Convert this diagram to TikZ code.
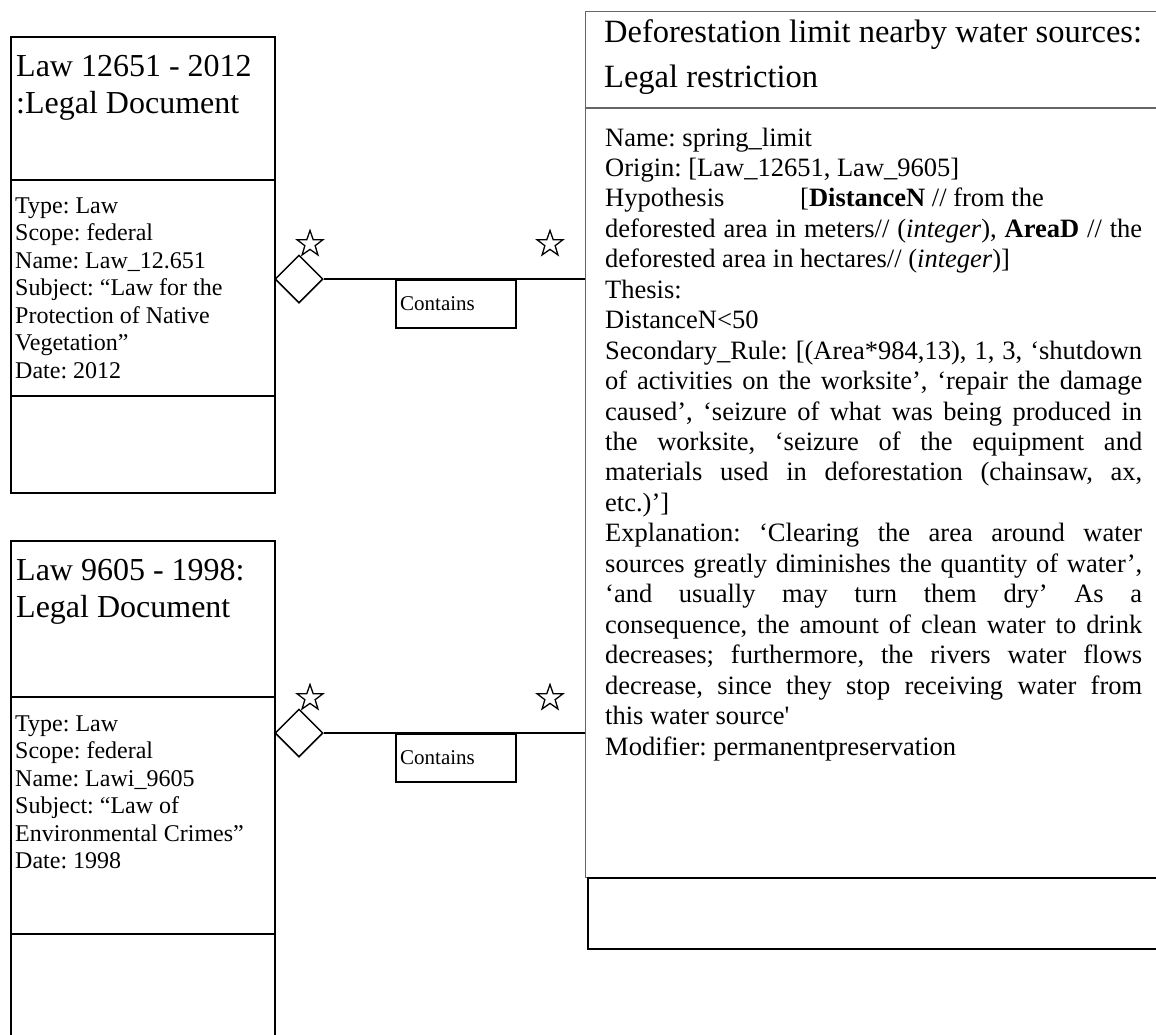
\documentclass[tikz,border=0pt]{standalone}
\usepackage{fontspec}
\setmainfont{Liberation Serif}[Ligatures=TeXOff]
\usetikzlibrary{shapes.geometric}
\newcommand\jline[1]{\makebox[\linewidth][s]{#1}}
\frenchspacing
\tikzset{
 docbox/.style={draw=black, line width=1.8pt, rectangle, inner sep=0pt, anchor=north west},
 rulebox/.style={draw=black!60, line width=1.2pt, rectangle, inner sep=0pt, anchor=north west},
 sectline/.style={draw=black, line width=1.8pt},
 rulesect/.style={draw=black!60, line width=1.2pt},
 agg/.style={draw=black, line width=1.5pt, diamond, inner sep=0pt, minimum width=48pt, minimum height=48pt},
 assoc/.style={draw=black, line width=1.5pt},
 relbox/.style={draw=black, line width=1.8pt, rectangle, inner sep=0pt, anchor=north west, minimum width=120pt, minimum height=48pt},
 lbl/.style={anchor=base west, inner sep=0pt},
 mult/.style={draw=black, line width=1.3pt, star, star points=5, star point ratio=2.5, minimum size=27pt, inner sep=0pt},
}
\begin{document}
\begin{tikzpicture}[x=1pt,y=-1pt]
\clip (0,0) rectangle (1156,1034);
\fill[white] (0,0) rectangle (1156,1034);

% helper rows
\coordinate (r180) at (0,180);
\coordinate (r396) at (0,396);
\coordinate (r697) at (0,697);
\coordinate (r934) at (0,934);
\coordinate (r108) at (0,108);

% Law 12651
\node[docbox, minimum width=264pt, minimum height=456pt] (law1) at (10,36) {};
\draw[sectline] (law1.west |- r180) -- (law1.east |- r180);
\draw[sectline] (law1.west |- r396) -- (law1.east |- r396);
\node[lbl] (law1title) at (16,76) {\parbox[t]{255pt}{\fontsize{32}{37}\selectfont Law 12651 - 2012\\:Legal Document}};
\node[lbl] (law1body) at (15,213) {\parbox[t]{255pt}{\fontsize{24}{27.5}\selectfont
Type: Law\\
Scope: federal\\
Name: Law\_12.651\\
Subject: “Law for the\\
Protection of Native\\
Vegetation”\\
Date: 2012}};

% Law 9605
\node[docbox, minimum width=264pt, minimum height=530pt] (law2) at (10,540) {};
\draw[sectline] (law2.west |- r697) -- (law2.east |- r697);
\draw[sectline] (law2.west |- r934) -- (law2.east |- r934);
\node[lbl] (law2title) at (16,580) {\parbox[t]{255pt}{\fontsize{32}{37.5}\selectfont Law 9605 - 1998:\\Legal Document}};
\node[lbl] (law2body) at (15,731) {\parbox[t]{255pt}{\fontsize{24}{27.5}\selectfont
Type: Law\\
Scope: federal\\
Name: Lawi\_9605\\
Subject: “Law of\\
Environmental Crimes”\\
Date: 1998}};

% Legal restriction
\node[rulebox, minimum width=600pt, minimum height=866pt] (rule) at (584.5,11) {};
\draw[rulesect] (rule.west |- r108) -- (rule.east |- r108);
\node[docbox, minimum width=590pt, minimum height=71pt] (ops) at (587,877) {};
\node[lbl] (ruletitle) at (604,42) {\parbox[t]{548pt}{\fontsize{32.5}{45}\selectfont Deforestation limit nearby water sources:\\Legal restriction}};
\node[lbl] (rulebody) at (605,146) {\parbox[t]{537pt}{\fontsize{26.5}{30.45}\selectfont
Name: spring\_limit\\
Origin: [Law\_12651, Law\_9605]\\
\makebox[195pt][l]{Hypothesis}[\textbf{DistanceN} // from the\\
\jline{deforested area in meters// (\textit{integer}), \textbf{AreaD} // the}\\
deforested area in hectares// (\textit{integer})]\\
Thesis:\\
DistanceN<50\\
\jline{Secondary\_Rule: [(Area*984,13), 1, 3, ‘shutdown}\\
\jline{of activities on the worksite’, ‘repair the damage}\\
\jline{caused’, ‘seizure of what was being produced in}\\
\jline{the worksite, ‘seizure of the equipment and}\\
\jline{materials used in deforestation (chainsaw, ax,}\\
etc.)’]\\
\jline{Explanation: ‘Clearing the area around water}\\
\jline{sources greatly diminishes the quantity of water’,}\\
\jline{‘and usually may turn them dry’ As a}\\
\jline{consequence, the amount of clean water to drink}\\
\jline{decreases; furthermore, the rivers water flows}\\
\jline{decrease, since they stop receiving water from}\\
this water source'\\
Modifier: permanentpreservation}};

% Aggregation 1
\node[agg] (d1) at (299,279) {};
\draw[assoc] (d1.east) -- (d1.east -| rule.west);
\node[relbox] (c1) at (395,279) {};
\node[lbl, font=\fontsize{21}{24}\selectfont] (c1t) at (400,310) {Contains};
\node[mult] (m1a) at (310,244) {};
\node[mult] (m1b) at (550,244) {};

% Aggregation 2
\node[agg] (d2) at (299,733) {};
\draw[assoc] (d2.east) -- (d2.east -| rule.west);
\node[relbox] (c2) at (395,733) {};
\node[lbl, font=\fontsize{21}{24}\selectfont] (c2t) at (400,764) {Contains};
\node[mult] (m2a) at (310,698) {};
\node[mult] (m2b) at (550,698) {};
\end{tikzpicture}
\end{document}
